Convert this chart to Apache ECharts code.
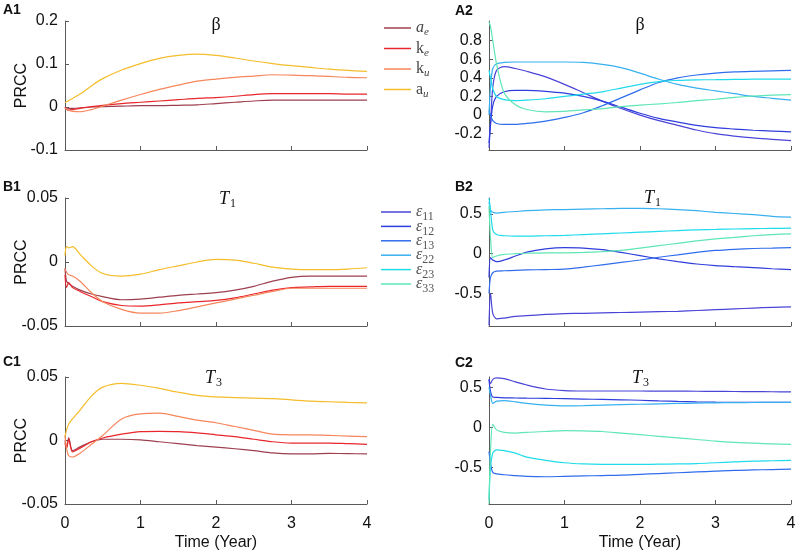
<!DOCTYPE html>
<html>
<head>
<meta charset="utf-8">
<script src="https://cdn.jsdelivr.net/npm/echarts@6/dist/echarts.min.js"></script>
<style>
  html, body { margin: 0; background: #fff; }
  #chart { width: 800px; height: 555px; }
</style>
</head>
<body>
<div id="chart"></div>
<script>
// sample times (years), shared by every panel
var time = [0, 0.02, 0.05, 0.1, 0.2, 0.35, 0.5, 0.75, 1, 1.25, 1.5, 1.75, 2, 2.25, 2.5, 2.75, 3, 3.25, 3.5, 3.75, 4];

// left column: a_e, k_e, k_u, a_u
var leftNames = ['ae', 'ke', 'ku', 'au'];
var A1_ae = [0, -0.002, -0.003, -0.003, -0.002, 0, 0.001, 0.002, 0.003, 0.003, 0.004, 0.005, 0.008, 0.011, 0.014, 0.016, 0.016, 0.016, 0.016, 0.016, 0.016];
var A1_ke = [-0.001, -0.006, -0.007, -0.006, -0.003, 0.001, 0.004, 0.008, 0.011, 0.014, 0.017, 0.02, 0.022, 0.025, 0.029, 0.031, 0.031, 0.031, 0.031, 0.03, 0.03];
var A1_ku = [-0.003, -0.005, -0.008, -0.01, -0.011, -0.006, 0.002, 0.016, 0.029, 0.041, 0.051, 0.06, 0.065, 0.069, 0.072, 0.075, 0.074, 0.073, 0.071, 0.069, 0.068];
var A1_au = [0.01, 0.012, 0.015, 0.02, 0.03, 0.049, 0.066, 0.086, 0.101, 0.113, 0.12, 0.123, 0.12, 0.114, 0.107, 0.101, 0.096, 0.092, 0.088, 0.085, 0.083];

var B1_ae = [-0.005, -0.015, -0.017, -0.019, -0.022, -0.025, -0.027, -0.0295, -0.029, -0.0275, -0.026, -0.025, -0.024, -0.022, -0.019, -0.015, -0.012, -0.011, -0.011, -0.011, -0.011];
var B1_ke = [-0.01, -0.02, -0.016, -0.02, -0.023, -0.027, -0.031, -0.034, -0.0345, -0.0335, -0.032, -0.031, -0.03, -0.028, -0.025, -0.022, -0.02, -0.0195, -0.019, -0.019, -0.019];
var B1_ku = [-0.005, -0.008, -0.01, -0.011, -0.015, -0.024, -0.031, -0.037, -0.04, -0.04, -0.038, -0.035, -0.032, -0.029, -0.026, -0.023, -0.0205, -0.0205, -0.0205, -0.0205, -0.0205];
var B1_au = [0.005, 0.012, 0.011, 0.012, 0.006, -0.003, -0.009, -0.011, -0.0095, -0.006, -0.003, 0, 0.002, 0.0015, -0.001, -0.004, -0.0055, -0.006, -0.006, -0.0055, -0.0045];

var C1_ae = [0, -0.006, 0.002, -0.008, -0.005, -0.001, 0.001, 0.001, 0.0005, -0.001, -0.0025, -0.004, -0.0052, -0.0065, -0.008, -0.0098, -0.0105, -0.0105, -0.0102, -0.0103, -0.0106];
var C1_ke = [-0.002, -0.006, 0.001, -0.009, -0.006, -0.001, 0.002, 0.005, 0.007, 0.0072, 0.007, 0.006, 0.0045, 0.003, 0.001, -0.001, -0.002, -0.002, -0.002, -0.0025, -0.003];
var C1_ku = [0.004, -0.006, -0.012, -0.013, -0.01, -0.003, 0.004, 0.017, 0.021, 0.0215, 0.019, 0.016, 0.014, 0.011, 0.008, 0.005, 0.0045, 0.0045, 0.004, 0.0035, 0.003];
var C1_au = [0.003, 0.008, 0.013, 0.017, 0.024, 0.035, 0.042, 0.045, 0.0435, 0.041, 0.038, 0.0355, 0.0343, 0.0338, 0.0333, 0.033, 0.032, 0.031, 0.0305, 0.03, 0.0296];

// right column: e11, e12, e13, e22, e23, e33
var rightNames = ['e11', 'e12', 'e13', 'e22', 'e23', 'e33'];
var A2_e11 = [-0.35, -0.1, 0.3, 0.48, 0.52, 0.5, 0.47, 0.41, 0.33, 0.24, 0.15, 0.07, 0.0, -0.06, -0.11, -0.16, -0.2, -0.225, -0.245, -0.26, -0.275];
var A2_e12 = [-0.3, -0.1, 0.1, 0.2, 0.25, 0.265, 0.265, 0.255, 0.235, 0.2, 0.15, 0.085, 0.02, -0.035, -0.075, -0.11, -0.135, -0.15, -0.163, -0.172, -0.18];
var A2_e13 = [0.05, 0.0, -0.06, -0.09, -0.1, -0.1, -0.09, -0.065, -0.025, 0.025, 0.1, 0.185, 0.27, 0.35, 0.4, 0.43, 0.45, 0.463, 0.47, 0.475, 0.48];
var A2_e22 = [0.0, 0.3, 0.5, 0.55, 0.565, 0.57, 0.57, 0.57, 0.57, 0.565, 0.545, 0.51, 0.45, 0.385, 0.33, 0.29, 0.26, 0.23, 0.2, 0.18, 0.16];
var A2_e23 = [0.48, 0.4, 0.28, 0.2, 0.165, 0.155, 0.16, 0.175, 0.2, 0.225, 0.25, 0.29, 0.33, 0.36, 0.372, 0.378, 0.38, 0.383, 0.385, 0.385, 0.385];
var A2_e33 = [1.0, 0.95, 0.8, 0.55, 0.24, 0.11, 0.06, 0.035, 0.04, 0.055, 0.07, 0.09, 0.107, 0.12, 0.135, 0.155, 0.17, 0.19, 0.205, 0.215, 0.22];

var B2_e11 = [-0.9, -0.5, -0.75, -0.82, -0.81, -0.79, -0.78, -0.765, -0.755, -0.75, -0.745, -0.74, -0.735, -0.73, -0.725, -0.715, -0.705, -0.695, -0.685, -0.675, -0.67];
var B2_e12 = [-0.3, -0.05, -0.08, -0.1, -0.08, -0.03, 0.02, 0.06, 0.075, 0.07, 0.05, 0.015, -0.025, -0.065, -0.1, -0.13, -0.15, -0.163, -0.175, -0.19, -0.2];
var B2_e13 = [-0.5, -0.3, -0.24, -0.22, -0.215, -0.21, -0.205, -0.2, -0.195, -0.17, -0.14, -0.11, -0.08, -0.045, -0.015, 0.015, 0.04, 0.055, 0.065, 0.07, 0.075];
var B2_e22 = [0.65, 0.55, 0.52, 0.51, 0.52, 0.53, 0.54, 0.55, 0.555, 0.56, 0.565, 0.57, 0.57, 0.565, 0.555, 0.54, 0.52, 0.505, 0.49, 0.47, 0.46];
var B2_e23 = [0.7, 0.55, 0.3, 0.24, 0.225, 0.22, 0.22, 0.225, 0.23, 0.24, 0.25, 0.26, 0.27, 0.28, 0.29, 0.3, 0.305, 0.31, 0.315, 0.318, 0.32];
var B2_e33 = [0.6, 0.2, -0.05, -0.03, -0.01, 0.0, 0.005, 0.01, 0.01, 0.015, 0.025, 0.04, 0.07, 0.1, 0.13, 0.16, 0.185, 0.205, 0.225, 0.24, 0.25];

var C2_e11 = [0.6, 0.55, 0.6, 0.62, 0.61, 0.57, 0.53, 0.48, 0.46, 0.455, 0.455, 0.455, 0.455, 0.454, 0.453, 0.452, 0.45, 0.449, 0.447, 0.446, 0.445];
var C2_e12 = [0.6, 0.45, 0.38, 0.375, 0.37, 0.368, 0.366, 0.363, 0.36, 0.355, 0.35, 0.345, 0.34, 0.332, 0.325, 0.32, 0.316, 0.314, 0.313, 0.313, 0.313];
var C2_e13 = [-0.3, -0.45, -0.56, -0.58, -0.59, -0.6, -0.61, -0.615, -0.61, -0.605, -0.6, -0.595, -0.585, -0.575, -0.565, -0.555, -0.545, -0.535, -0.53, -0.525, -0.52];
var C2_e22 = [0.5, 0.4, 0.3, 0.33, 0.335, 0.32, 0.3, 0.28, 0.27, 0.272, 0.278, 0.285, 0.29, 0.295, 0.3, 0.304, 0.308, 0.31, 0.312, 0.313, 0.313];
var C2_e23 = [-0.9, -0.5, -0.32, -0.28, -0.29, -0.32, -0.37, -0.41, -0.44, -0.455, -0.46, -0.46, -0.46, -0.458, -0.455, -0.45, -0.44, -0.43, -0.42, -0.415, -0.41];
var C2_e33 = [-0.95, -0.3, 0.04, -0.03, -0.06, -0.07, -0.06, -0.05, -0.04, -0.042, -0.05, -0.07, -0.09, -0.11, -0.13, -0.15, -0.17, -0.185, -0.195, -0.205, -0.21];

// y tick labels of the right column
var A2_ticks = [-0.2, 0, 0.2, 0.4, 0.6, 0.8];
var B2_ticks = [-0.5, 0, 0.5];
var C2_ticks = [-0.5, 0, 0.5];

var leftColors = ['#9e3f4f', '#e8262b', '#f6865c', '#f5bd2b'];
var rightColors = ['#4b44d8', '#2f3ddc', '#2f6ded', '#38b0f0', '#20dbea', '#5fe6b6'];

var panels = [
  { grid: { left: 65, top: 21, width: 302, height: 129 }, min: -0.1, max: 0.2, interval: 0.1, names: leftNames, colors: leftColors, data: [A1_ae, A1_ke, A1_ku, A1_au] },
  { grid: { left: 489, top: 21, width: 302, height: 129 }, min: -0.375, max: 1.01, ticks: A2_ticks, names: rightNames, colors: rightColors, data: [A2_e11, A2_e12, A2_e13, A2_e22, A2_e23, A2_e33] },
  { grid: { left: 65, top: 198, width: 302, height: 128 }, min: -0.05, max: 0.05, interval: 0.05, names: leftNames, colors: leftColors, data: [B1_ae, B1_ke, B1_ku, B1_au] },
  { grid: { left: 489, top: 198, width: 302, height: 128 }, min: -0.91, max: 0.7, ticks: B2_ticks, names: rightNames, colors: rightColors, data: [B2_e11, B2_e12, B2_e13, B2_e22, B2_e23, B2_e33] },
  { grid: { left: 65, top: 377, width: 302, height: 127 }, min: -0.05, max: 0.05, interval: 0.05, names: leftNames, colors: leftColors, data: [C1_ae, C1_ke, C1_ku, C1_au] },
  { grid: { left: 489, top: 377, width: 302, height: 127 }, min: -0.955, max: 0.63, ticks: C2_ticks, names: rightNames, colors: rightColors, data: [C2_e11, C2_e12, C2_e13, C2_e22, C2_e23, C2_e33] }
];

var sans = 'Liberation Sans, Arial, sans-serif';
var serif = 'Liberation Serif, DejaVu Serif, serif';
var axisColor = '#5a5a5a';

var grids = [], xAxes = [], yAxes = [], series = [];
panels.forEach(function (p, i) {
  var bottom = i >= 4;
  var left = i % 2 === 0;
  grids.push(p.grid);
  xAxes.push({
    type: 'value', gridIndex: i, min: 0, max: 4, interval: 1,
    axisLine: { onZero: false, lineStyle: { color: axisColor } },
    axisTick: { inside: true, length: 4, lineStyle: { color: axisColor } },
    axisLabel: { show: bottom, color: '#111', fontSize: 16, fontFamily: sans, margin: 12 },
    splitLine: { show: false },
    name: bottom ? 'Time (Year)' : '', nameLocation: 'middle', nameGap: 31,
    nameTextStyle: { color: '#111', fontSize: 16, fontFamily: sans }
  });
  var y = {
    type: 'value', gridIndex: i, min: p.min, max: p.max,
    axisLine: { show: true, onZero: false, lineStyle: { color: axisColor } },
    axisTick: { show: true, inside: true, length: 4, lineStyle: { color: axisColor } },
    axisLabel: { color: '#111', fontSize: 16, fontFamily: sans, margin: 7 },
    splitLine: { show: false },
    name: left ? 'PRCC' : '', nameLocation: 'middle', nameGap: 35, nameMoveOverlap: false,
    nameTextStyle: { color: '#111', fontSize: 16, fontFamily: sans }
  };
  if (p.ticks) {
    y.axisLabel.customValues = p.ticks;
    y.axisTick.customValues = p.ticks;
  } else {
    y.interval = p.interval;
  }
  yAxes.push(y);
  p.data.forEach(function (vals, k) {
    series.push({
      type: 'line', name: p.names[k], xAxisIndex: i, yAxisIndex: i,
      data: time.map(function (t, j) { return [t, vals[j]]; }),
      showSymbol: false, symbol: 'none', smooth: 0.3,
      lineStyle: { color: p.colors[k], width: 1.2 },
      itemStyle: { color: p.colors[k] },
      emphasis: { disabled: true }
    });
  });
});

var legendText1 = { ae: '{i|a}{s|e}', ke: '{r|k}{s|e}', ku: '{r|k}{s|u}', au: '{r|a}{s|u}' };
var legendText2 = { e11: '{e|ε}{d|11}', e12: '{e|ε}{d|12}', e13: '{e|ε}{d|13}', e22: '{e|ε}{d|22}', e23: '{e|ε}{d|23}', e33: '{e|ε}{d|33}' };

// main letter plus a lowered subscript, drawn as two texts
function titleText(x, y, main, sub, italic) {
  var out = [{
    type: 'text', x: x, y: y,
    style: { text: main, font: (italic ? 'italic ' : '') + '18px ' + serif, fill: '#111', align: sub ? 'right' : 'center', verticalAlign: 'middle' }
  }];
  if (sub) {
    out.push({
      type: 'text', x: x + 1, y: y + 5,
      style: { text: sub, font: '12px ' + serif, fill: '#111', align: 'left', verticalAlign: 'middle' }
    });
  }
  return out;
}
function panelLabel(x, y, txt) {
  return {
    type: 'text', x: x, y: y,
    style: { text: txt, font: 'bold 14px ' + sans, fill: '#111', align: 'left', verticalAlign: 'middle' }
  };
}

var graphics = [
  panelLabel(3, 10, 'A1'), panelLabel(455, 11, 'A2'),
  panelLabel(3, 187, 'B1'), panelLabel(455, 187, 'B2'),
  panelLabel(3, 362, 'C1'), panelLabel(455, 363, 'C2')
].concat(
  titleText(216, 25, 'β'), titleText(640, 25, 'β'),
  titleText(229, 199, 'T', '1', true), titleText(654, 198, 'T', '1', true),
  titleText(215, 378, 'T', '3', true), titleText(642, 378, 'T', '3', true)
);

var option = {
  animation: false,
  backgroundColor: '#fff',
  grid: grids,
  xAxis: xAxes,
  yAxis: yAxes,
  series: series,
  legend: [
    {
      data: leftNames, orient: 'vertical', left: 384, top: 20, padding: 0,
      icon: 'rect', itemWidth: 27, itemHeight: 1.5, itemGap: 2.5,
      selectedMode: false,
      formatter: function (n) { return legendText1[n]; },
      textStyle: {
        color: '#444',
        rich: {
          i: { fontSize: 16, fontFamily: serif, fontStyle: 'italic', lineHeight: 14, verticalAlign: 'middle', color: '#444' },
          r: { fontSize: 16, fontFamily: serif, lineHeight: 14, verticalAlign: 'middle', color: '#444' },
          s: { fontSize: 11, fontFamily: serif, fontStyle: 'italic', lineHeight: 14, verticalAlign: 'top', padding: [6, 0, 0, 0], color: '#444' }
        }
      }
    },
    {
      data: rightNames, orient: 'vertical', left: 381, top: 204, padding: 0,
      icon: 'rect', itemWidth: 30, itemHeight: 1.5, itemGap: -4.6,
      selectedMode: false,
      formatter: function (n) { return legendText2[n]; },
      textStyle: {
        color: '#555',
        rich: {
          e: { fontSize: 16, fontFamily: serif, fontStyle: 'italic', lineHeight: 12, verticalAlign: 'middle', color: '#555' },
          d: { fontSize: 12, fontFamily: serif, lineHeight: 12, verticalAlign: 'top', padding: [5, 0, 0, 0], color: '#555' }
        }
      }
    }
  ],
  graphic: graphics
};

var chart = echarts.init(document.getElementById('chart'));
chart.setOption(option);
</script>
</body>
</html>
